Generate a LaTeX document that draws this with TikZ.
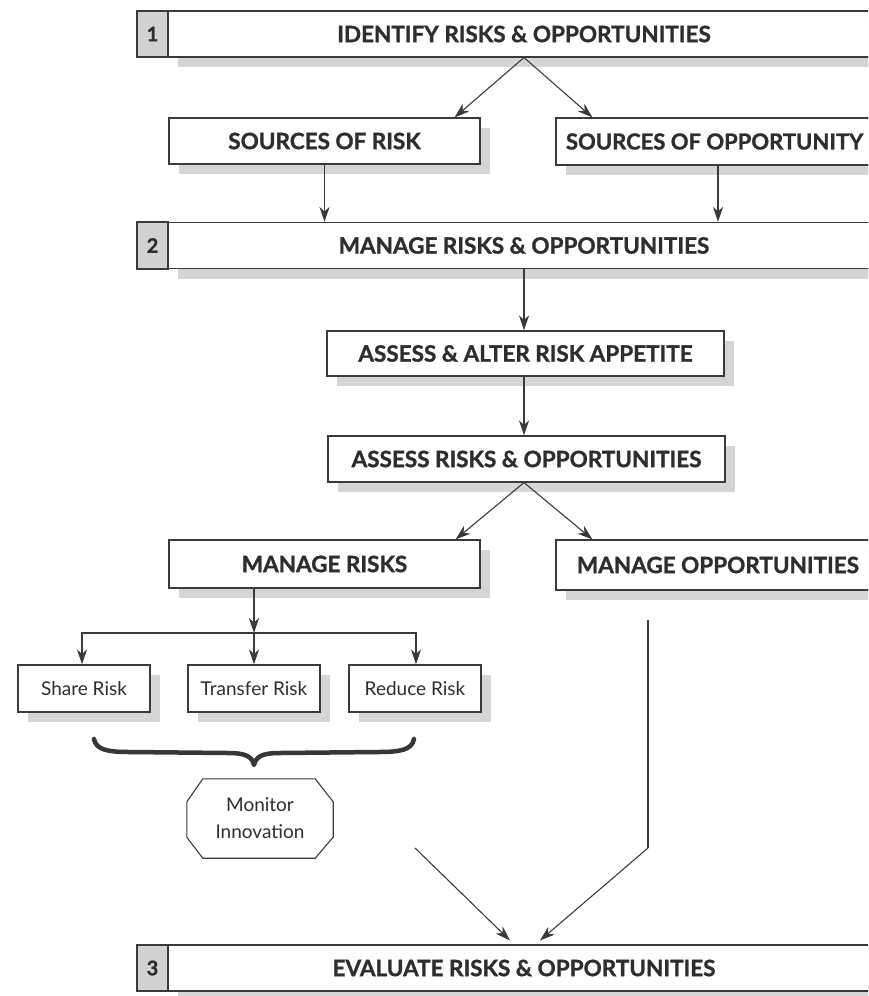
\documentclass[tikz,border=0pt]{standalone}
\usepackage{fontspec}
\setmainfont{Lato}[BoldFeatures={FakeBold=1.2}]
\usetikzlibrary{arrows.meta,shadows,calc}
\definecolor{ink}{HTML}{2E2E2E}
\definecolor{rule}{HTML}{3A3A3A}
\definecolor{shade}{HTML}{D5D5D7}
\definecolor{cell}{HTML}{D2D2D2}
\begin{document}
\begin{tikzpicture}[x=1pt,y=-1pt,
  every node/.style={text=ink},
  plain/.style={draw=rule, line width=1.1pt, fill=white, inner sep=0pt,
    drop shadow={opacity=1, fill=shade, shadow xshift=10pt, shadow yshift=-10pt}},
  headbox/.style={plain, font=\bfseries\fontsize{22.5}{26}\selectfont},
  stage/.style={headbox, minimum width=712pt, minimum height=46pt},
  numcell/.style={draw=rule, line width=1.1pt, fill=cell, inner sep=0pt,
    minimum width=31pt, minimum height=46pt, font=\bfseries\fontsize{20}{24}\selectfont},
  smallbox/.style={plain, minimum width=132pt, minimum height=47pt,
    font=\fontsize{19}{22}\selectfont},
  arr/.style={draw=rule, line width=1.1pt,
    -{Stealth[length=15pt, width=10pt, inset=4.5pt]}},
  ln/.style={draw=rule, line width=1.1pt}]
\useasboundingbox (0,0) rectangle (868,996);
\clip (0,0) rectangle (868,996);

% stage 1
\node[stage] (s1) at (524,34) {IDENTIFY RISKS \& OPPORTUNITIES};
\node[numcell] (n1) at (152.5,34) {1};

% sources
\node[headbox, minimum width=311pt, minimum height=46pt] (sr) at (324.5,141) {SOURCES OF RISK};
\node[headbox, minimum height=47pt, inner xsep=10pt, font=\bfseries\fontsize{22}{26}\selectfont]
  (so) at (718,141.5) {\makebox[304pt][l]{SOURCES OF OPPORTUNITY}};

% stage 2
\node[stage] (s2) at (524,245.5) {MANAGE RISKS \& OPPORTUNITIES};
\node[numcell, minimum height=47pt] (n2) at (152.5,245.5) {2};

\node[headbox, minimum width=397pt, minimum height=45pt] (aa) at (525.5,353.5) {ASSESS \& ALTER RISK APPETITE};
\node[headbox, minimum width=397pt, minimum height=46pt] (ar) at (526.5,459) {ASSESS RISKS \& OPPORTUNITIES};

\node[headbox, minimum width=311pt, minimum height=48pt] (mr) at (324.5,564) {MANAGE RISKS};
\node[headbox, minimum width=324pt, minimum height=50pt] (mo) at (718,565) {MANAGE OPPORTUNITIES};

% risk responses
\node[smallbox] (sh) at (84,688.5) {Share Risk};
\node[smallbox] (tr) at (254,688.5) {Transfer Risk};
\node[smallbox] (rr) at (415,688.5) {Reduce Risk};

% monitoring
\node[font=\fontsize{19}{27}\selectfont, align=center, minimum width=146pt,
  minimum height=79pt, inner sep=0pt] (mon) at (260,818.5) {Monitor\\Innovation};
\draw[rule, line width=1.1pt]
  ($(mon.north west)+(16,0)$) -- ($(mon.north east)+(-18,0)$)
  -- ($(mon.north east)+(0,23)$) -- ($(mon.south east)+(0,-21)$)
  -- ($(mon.south east)+(-18,0)$) -- ($(mon.south west)+(16,0)$)
  -- ($(mon.south west)+(0,-21)$) -- ($(mon.north west)+(0,23)$) -- cycle;

% stage 3
\node[stage] (s3) at (524,968) {EVALUATE RISKS \& OPPORTUNITIES};
\node[numcell] (n3) at (152.5,968) {3};

% connectors
\draw[arr] (s1.south) -- ($(sr.north east)+(-26,0)$);
\draw[arr] (s1.south) -- ($(so.north west)+(37,0)$);
\draw[arr] (sr.south) -- (sr.south |- s2.north);
\draw[arr] (so.south) -- (so.south |- s2.north);
\draw[arr] (s2.south) -- (s2.south |- aa.north);
\draw[arr] (s2.south |- aa.south) -- (s2.south |- ar.north);
\draw[arr] ($(ar.south)+(-2.5,0)$) -- ($(mr.north east)+(-25,0)$);
\draw[arr] ($(ar.south)+(-2.5,0)$) -- ($(mo.north west)+(37,0)$);

\coordinate (bus) at (254,633);
\draw[arr] (mr.south -| tr.north) -- (bus);
\draw[arr] (bus) -- (tr.north);
\draw[arr] (bus) -| ($(sh.north)+(-2,0)$);
\draw[arr] (bus) -| ($(rr.north)+(1,0)$);

% brace under the responses
\draw[rule!95!black, line width=4.5pt, line cap=round, line join=round]
  (94,739) .. controls (96,750) and (108,752) .. (130,752)
  -- (228,753) .. controls (247,753) and (252,757) .. (254,765)
  .. controls (256,757) and (261,753) .. (280,753)
  -- (378,752) .. controls (400,752) and (412,750) .. (414,739);

% lines into the evaluation stage
\coordinate (inov) at (415,848);
\coordinate (opA) at (648,620);
\coordinate (opB) at (648,848);
\draw[arr] (inov) -- ($(s3.north)+(-14,-4)$);
\draw[ln] (opA) -- (opB);
\draw[arr] (opB) -- ($(s3.north)+(16,-4)$);
\end{tikzpicture}
\end{document}
